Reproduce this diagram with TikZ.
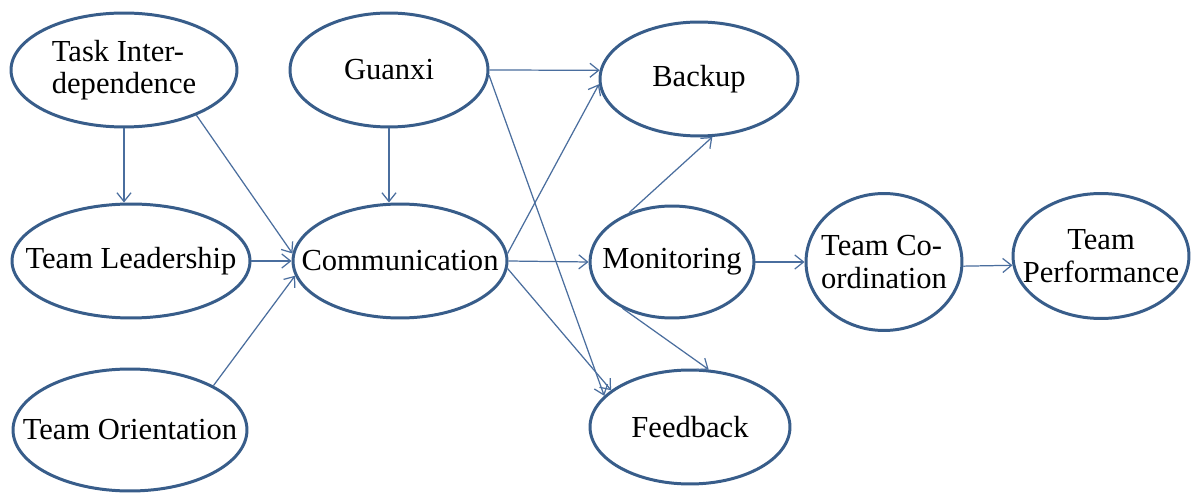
\documentclass[tikz,border=0pt]{standalone}
\usepackage{fontspec}
\setmainfont{Liberation Serif}
\usepackage{tikz}
\usetikzlibrary{shapes.geometric, arrows.meta}
\definecolor{ringblue}{RGB}{56,93,138}
\definecolor{lineblue}{RGB}{74,110,158}

\begin{document}
\begin{tikzpicture}[x=0.02cm, y=-0.02cm,
    oval/.style={ellipse, draw=ringblue, line width=1.7pt, inner sep=-30pt,
        font=\fontsize{17.4}{18.5}\selectfont},
    link/.style={lineblue, line width=0.7pt, -{Straight Barb[length=5pt,width=8pt]}}]
    \fill[white] (0,0) rectangle (1200,493);
    \useasboundingbox (0,0) rectangle (1200,493);

    % 椭圆节点
    \node[oval, align=left, minimum width=4.52cm, minimum height=2.28cm] (ti) at (124,70) {Task Inter-\\dependence};
    \node[oval, minimum width=3.96cm, minimum height=2.28cm] (gx) at (389,70) {Guanxi};
    \node[oval, minimum width=3.96cm, minimum height=2.28cm] (bk) at (699,79) {Backup};
    \node[oval, minimum width=4.76cm, minimum height=2.28cm] (tl) at (131,261) {Team Leadership};
    \node[oval, minimum width=4.28cm, minimum height=2.28cm] (comm) at (400,261) {Communication};
    \node[oval, minimum width=3.28cm, minimum height=2.24cm] (mon) at (672,262) {Monitoring};
    \node[oval, align=left, minimum width=3.12cm, minimum height=2.74cm] (tc) at (884,262) {Team Co-\\ordination};
    \node[oval, align=center, minimum width=3.52cm, minimum height=2.5cm] (tp) at (1101,256) {Team\\Performance};
    \node[oval, minimum width=4.68cm, minimum height=2.44cm] (to) at (130,430) {Team Orientation};
    \node[oval, minimum width=4.0cm, minimum height=2.28cm] (fb) at (690,427) {Feedback};

    % 箭头
    \draw[link] (ti.south) -- (ti.south |- tl.north);
    \draw[link] (ti.-32) -- (comm.176);
    \draw[link] (tl.east) -- (comm.west);
    \draw[link] (to.28) -- (comm.188);
    \draw[link] (gx.south) -- (gx.south |- comm.north);
    \draw[link] (gx.east) -- (bk.175);
    \draw[link] (gx.-3) -- (fb.160);
    \draw[link] (comm.4) -- (bk.183);
    \draw[link] (comm.east) -- (mon.west);
    \draw[link] (comm.-4) -- (fb.155);
    \draw[link] (mon.131) -- (bk.-77);
    \draw[link] (mon.223) -- (fb.72);
    \draw[link] (mon.east) -- (tc.west);
    \draw[link] (tc.-3) -- (tp.186);
\end{tikzpicture}
\end{document}
